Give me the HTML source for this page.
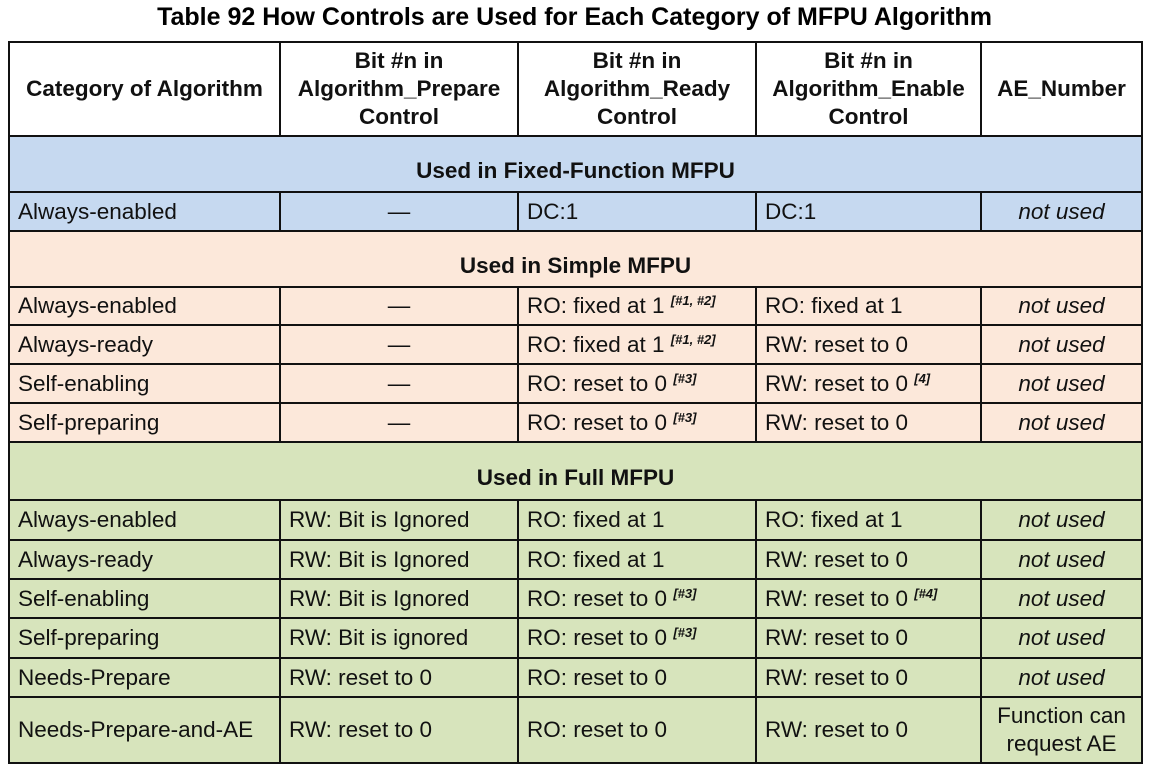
<!DOCTYPE html>
<html><head><style>
body{margin:0;background:#fff;font-family:"Liberation Sans",Arial,sans-serif;}
.t{position:absolute;left:0;width:1149px;top:3px;text-align:center;font-weight:bold;font-size:25px;}
table{position:absolute;left:8px;top:41px;border-collapse:collapse;table-layout:fixed;font-size:22.5px;}
td{border:2px solid #111;padding:0 0 0 8px;color:#111;white-space:nowrap;overflow:hidden;}
.h td{font-weight:bold;text-align:center;padding:0;line-height:28px;background:#fff;}
.s td{font-weight:bold;text-align:center;padding:14px 0 0 0;}
.b{background:#c6d9f0}.p{background:#fce8da}.g{background:#d7e4bc}
.c{text-align:center;padding:0}
.i{font-style:italic;text-align:center;padding:0}
sup{font-size:13px;font-weight:bold;font-style:italic;vertical-align:8px}
</style></head><body>
<div class="t">Table 92 How Controls are Used for Each Category of MFPU Algorithm</div>
<table>
<colgroup><col style="width:271px"><col style="width:238px"><col style="width:238px"><col style="width:225px"><col style="width:161px"></colgroup>
<tr class="h" style="height:94px"><td>Category of Algorithm</td><td>Bit #n in<br>Algorithm_Prepare<br>Control</td><td>Bit #n in<br>Algorithm_Ready<br>Control</td><td>Bit #n in<br>Algorithm_Enable<br>Control</td><td>AE_Number</td></tr>
<tr class="s b" style="height:56px"><td colspan="5">Used in Fixed-Function MFPU</td></tr>
<tr class="b" style="height:39px"><td>Always-enabled</td><td class="c">—</td><td>DC:1</td><td>DC:1</td><td class="i">not used</td></tr>
<tr class="s p" style="height:56px"><td colspan="5">Used in Simple MFPU</td></tr>
<tr class="p" style="height:38px"><td>Always-enabled</td><td class="c">—</td><td>RO: fixed at 1 <sup>[#1, #2]</sup></td><td>RO: fixed at 1</td><td class="i">not used</td></tr>
<tr class="p" style="height:39px"><td>Always-ready</td><td class="c">—</td><td>RO: fixed at 1 <sup>[#1, #2]</sup></td><td>RW: reset to 0</td><td class="i">not used</td></tr>
<tr class="p" style="height:39px"><td>Self-enabling</td><td class="c">—</td><td>RO: reset to 0 <sup>[#3]</sup></td><td>RW: reset to 0 <sup>[4]</sup></td><td class="i">not used</td></tr>
<tr class="p" style="height:39px"><td>Self-preparing</td><td class="c">—</td><td>RO: reset to 0 <sup>[#3]</sup></td><td>RW: reset to 0</td><td class="i">not used</td></tr>
<tr class="s g" style="height:58px"><td colspan="5">Used in Full MFPU</td></tr>
<tr class="g" style="height:40px"><td>Always-enabled</td><td>RW: Bit is Ignored</td><td>RO: fixed at 1</td><td>RO: fixed at 1</td><td class="i">not used</td></tr>
<tr class="g" style="height:39px"><td>Always-ready</td><td>RW: Bit is Ignored</td><td>RO: fixed at 1</td><td>RW: reset to 0</td><td class="i">not used</td></tr>
<tr class="g" style="height:39px"><td>Self-enabling</td><td>RW: Bit is Ignored</td><td>RO: reset to 0 <sup>[#3]</sup></td><td>RW: reset to 0 <sup>[#4]</sup></td><td class="i">not used</td></tr>
<tr class="g" style="height:40px"><td>Self-preparing</td><td>RW: Bit is ignored</td><td>RO: reset to 0 <sup>[#3]</sup></td><td>RW: reset to 0</td><td class="i">not used</td></tr>
<tr class="g" style="height:39px"><td>Needs-Prepare</td><td>RW: reset to 0</td><td>RO: reset to 0</td><td>RW: reset to 0</td><td class="i">not used</td></tr>
<tr class="g" style="height:66px"><td>Needs-Prepare-and-AE</td><td>RW: reset to 0</td><td>RO: reset to 0</td><td>RW: reset to 0</td><td class="c" style="line-height:28px">Function can<br>request AE</td></tr>
</table>
</body></html>
